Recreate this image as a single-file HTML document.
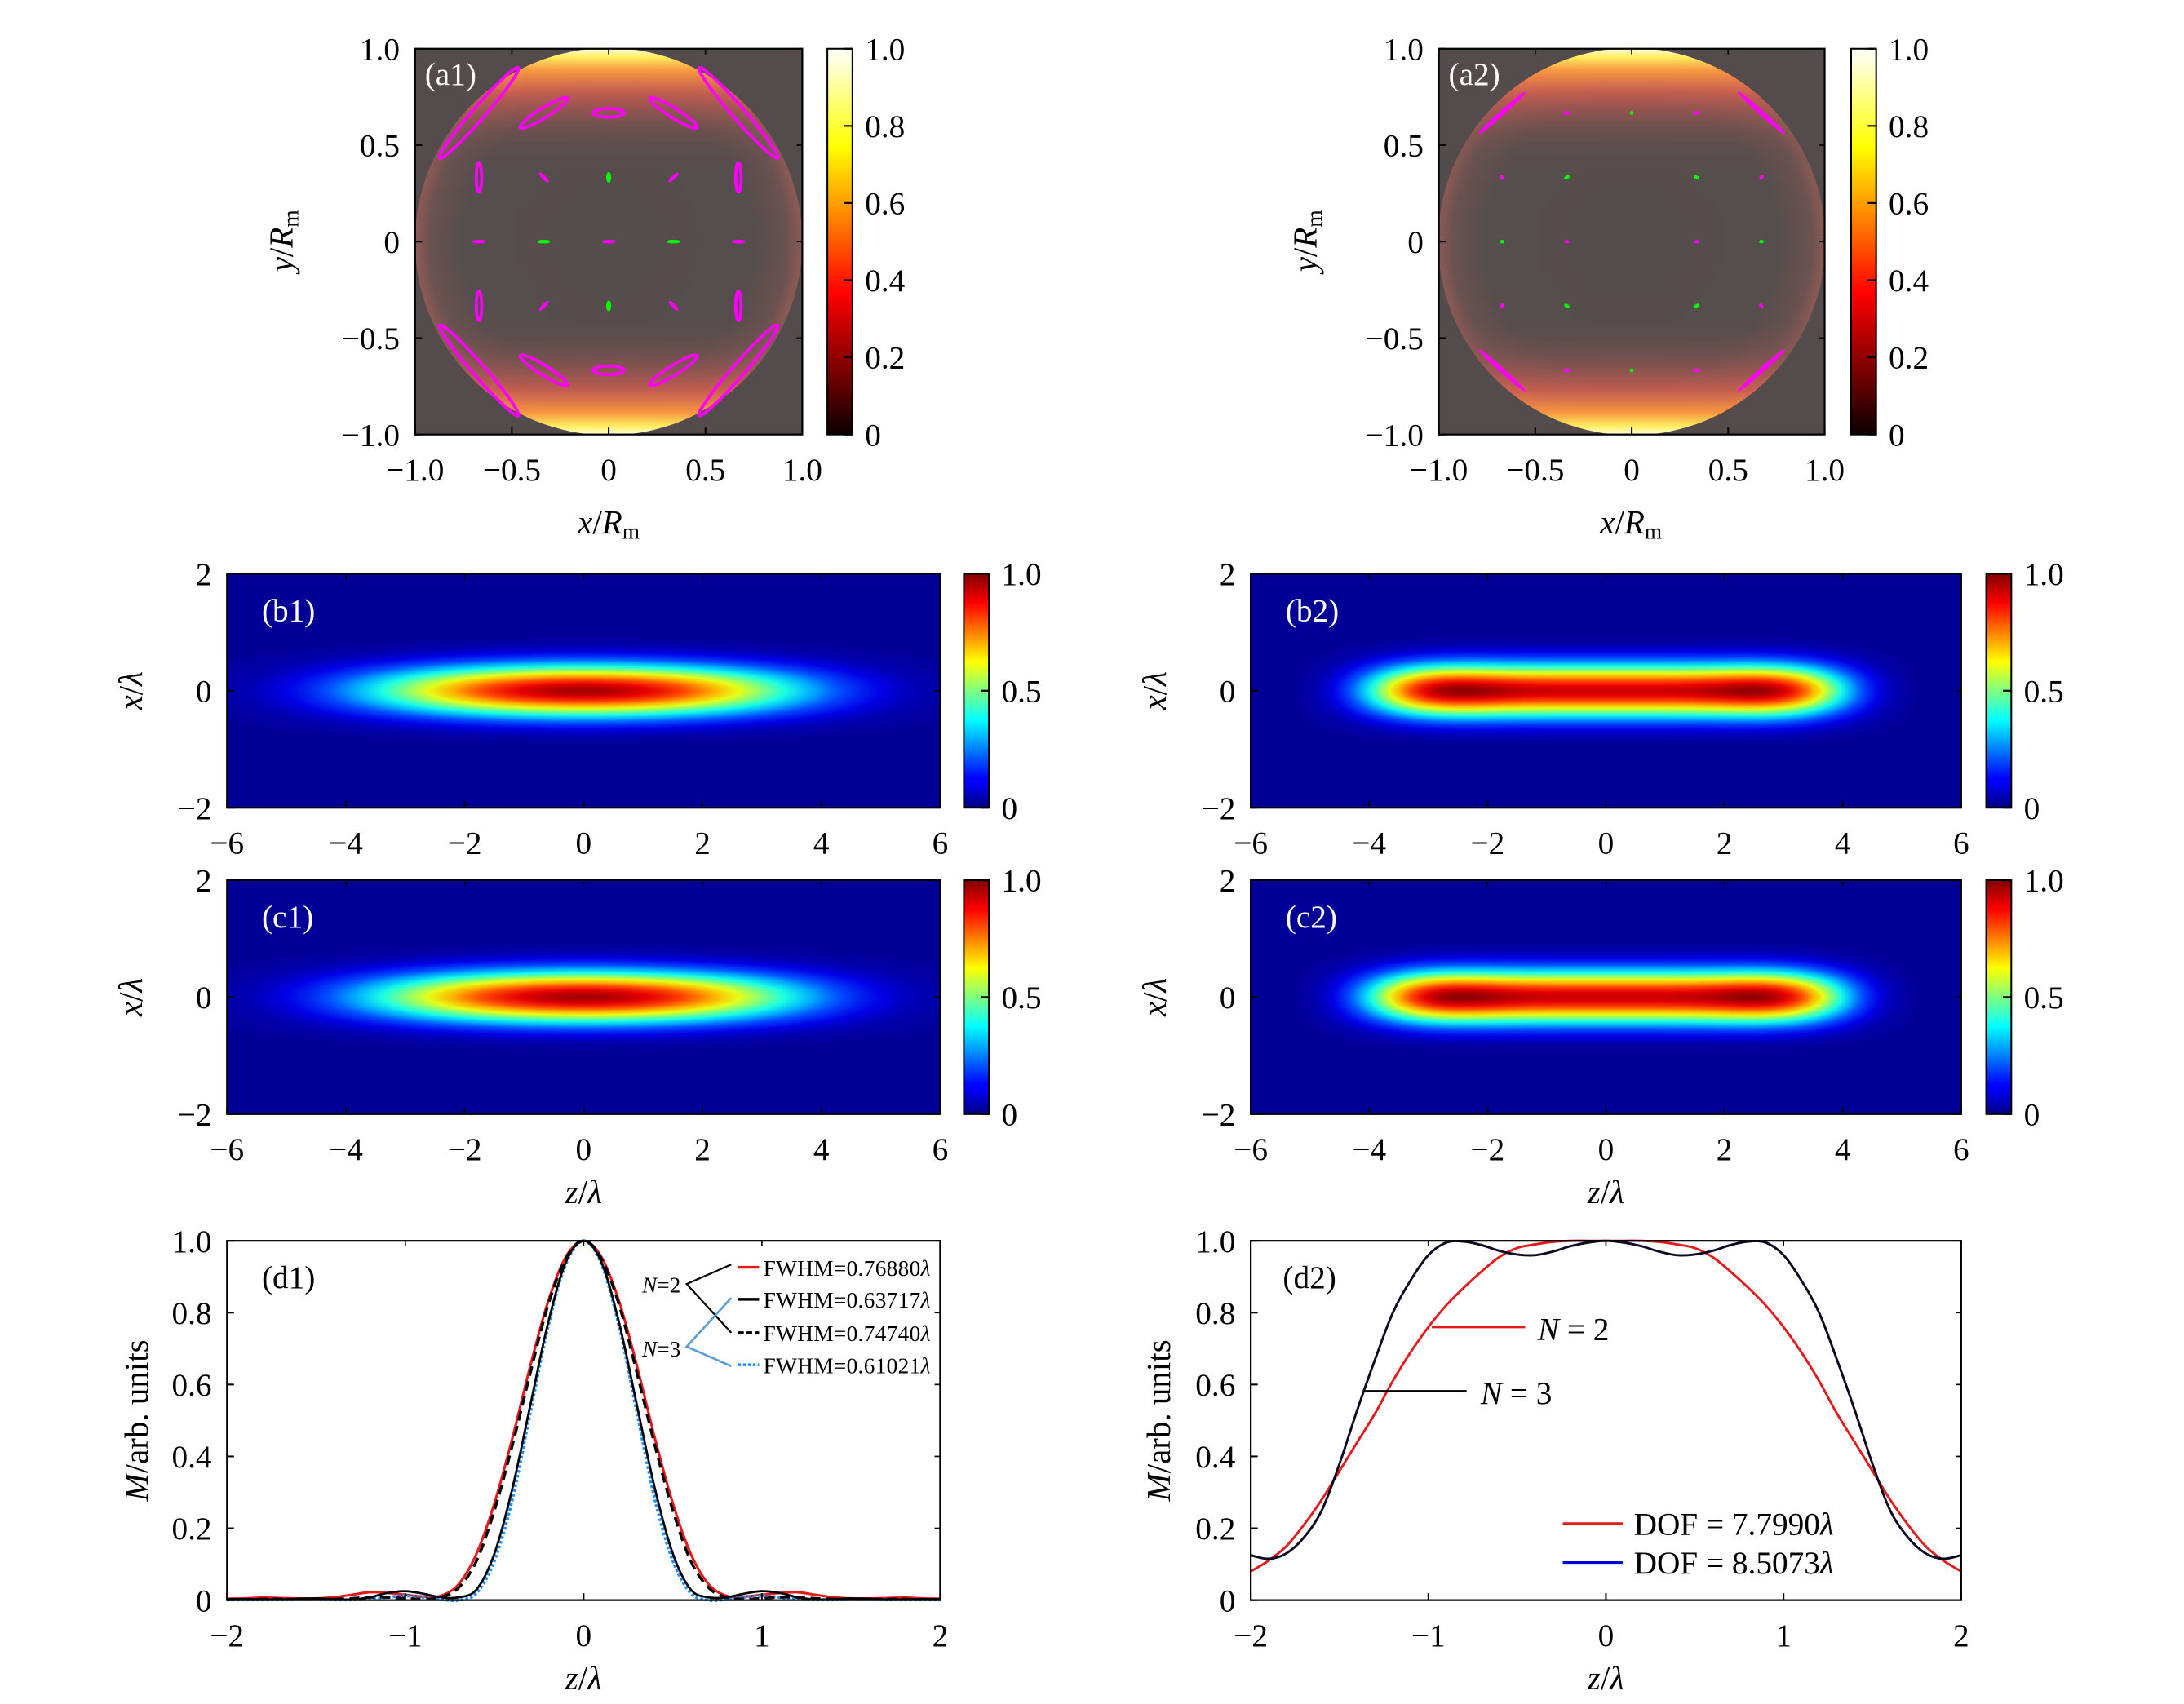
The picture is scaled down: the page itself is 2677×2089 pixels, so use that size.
<!DOCTYPE html>
<html><head><meta charset="utf-8"><style>
html,body{margin:0;padding:0;background:#fff;}
svg{display:block;font-family:"Liberation Serif",serif;}
</style></head><body>
<svg id="fig" xmlns="http://www.w3.org/2000/svg" width="2677" height="2089" viewBox="0 0 1568 1223.6" preserveAspectRatio="none">
<defs>
 <linearGradient id="hot" x1="0" y1="1" x2="0" y2="0">
  <stop offset="0" stop-color="#0b0000"/><stop offset="0.365" stop-color="#ff0000"/>
  <stop offset="0.746" stop-color="#ffff00"/><stop offset="1" stop-color="#ffffff"/>
 </linearGradient>
 <linearGradient id="jet" x1="0" y1="1" x2="0" y2="0">
  <stop offset="0" stop-color="#000080"/><stop offset="0.11" stop-color="#0000ff"/>
  <stop offset="0.125" stop-color="#0000ff"/><stop offset="0.375" stop-color="#00ffff"/>
  <stop offset="0.5" stop-color="#80ff80"/><stop offset="0.625" stop-color="#ffff00"/>
  <stop offset="0.875" stop-color="#ff0000"/><stop offset="1" stop-color="#800000"/>
 </linearGradient>
 <radialGradient id="discBase" cx="0.5" cy="0.5" r="0.5">
  <stop offset="0" stop-color="#554c4c"/><stop offset="0.75" stop-color="#564d4d"/>
  <stop offset="0.92" stop-color="#6a5250"/><stop offset="1" stop-color="#8e5a55"/>
 </radialGradient>
 <linearGradient id="discVert" x1="0" y1="0" x2="0" y2="1">
  <stop offset="0" stop-color="#fffff0" stop-opacity="1"/>
  <stop offset="0.025" stop-color="#ffee60" stop-opacity="1"/>
  <stop offset="0.06" stop-color="#ff9a40" stop-opacity="0.95"/>
  <stop offset="0.12" stop-color="#e06050" stop-opacity="0.75"/>
  <stop offset="0.22" stop-color="#8a5552" stop-opacity="0.35"/>
  <stop offset="0.32" stop-color="#554c4c" stop-opacity="0"/>
  <stop offset="0.68" stop-color="#554c4c" stop-opacity="0"/>
  <stop offset="0.78" stop-color="#8a5552" stop-opacity="0.35"/>
  <stop offset="0.88" stop-color="#e06050" stop-opacity="0.75"/>
  <stop offset="0.94" stop-color="#ff9a40" stop-opacity="0.95"/>
  <stop offset="0.975" stop-color="#ffee60" stop-opacity="1"/>
  <stop offset="1" stop-color="#fffff0" stop-opacity="1"/>
 </linearGradient>
 <clipPath id="discA1"><circle cx="437" cy="173.5" r="139"/></clipPath>
 <clipPath id="discA2"><circle cx="1171.5" cy="173.5" r="139"/></clipPath>
 <clipPath id="clipB1"><rect x="163" y="412" width="512" height="168"/></clipPath>
 <clipPath id="clipB2"><rect x="898" y="412" width="510" height="168"/></clipPath>
 <clipPath id="clipC1"><rect x="163" y="632" width="512" height="168"/></clipPath>
 <clipPath id="clipC2"><rect x="898" y="632" width="510" height="168"/></clipPath>
 <filter id="beam1" color-interpolation-filters="sRGB" x="-0.1" y="-0.1" width="1.2" height="1.2">
  <feGaussianBlur stdDeviation="60 11"/>
  <feComponentTransfer><feFuncR type="linear" slope="1.38"/><feFuncG type="linear" slope="1.38"/><feFuncB type="linear" slope="1.38"/></feComponentTransfer>
  <feComponentTransfer>
   <feFuncR type="table" tableValues="0 0 0 0 0.1 0.5 0.9 1 1 0.9 0.5"/>
   <feFuncG type="table" tableValues="0 0 0.3 0.7 1 1 1 0.7 0.3 0 0"/>
   <feFuncB type="table" tableValues="0.5 0.9 1 1 0.9 0.5 0.1 0 0 0 0"/>
  </feComponentTransfer>
 </filter>
 <filter id="beam2" color-interpolation-filters="sRGB" x="-0.1" y="-0.1" width="1.2" height="1.2">
  <feGaussianBlur stdDeviation="24 11"/>
  <feComponentTransfer><feFuncR type="linear" slope="1.38"/><feFuncG type="linear" slope="1.38"/><feFuncB type="linear" slope="1.38"/></feComponentTransfer>
  <feComponentTransfer>
   <feFuncR type="table" tableValues="0 0 0 0 0.1 0.5 0.9 1 1 0.9 0.5"/>
   <feFuncG type="table" tableValues="0 0 0.3 0.7 1 1 1 0.7 0.3 0 0"/>
   <feFuncB type="table" tableValues="0.5 0.9 1 1 0.9 0.5 0.1 0 0 0 0"/>
  </feComponentTransfer>
 </filter>
</defs>

<rect x="298" y="35" width="278" height="277" fill="#544c4c"/>
<g clip-path="url(#discA1)">
 <rect x="298" y="34" width="278" height="279" fill="url(#discBase)"/>
 <rect x="298" y="34" width="278" height="279" fill="url(#discVert)"/>
</g>
<rect x="1033" y="35" width="277" height="277" fill="#544c4c"/>
<g clip-path="url(#discA2)">
 <rect x="1032" y="34" width="279" height="279" fill="url(#discBase)"/>
 <rect x="1032" y="34" width="279" height="279" fill="url(#discVert)"/>
</g>
<g id="ellA1"></g>
<g id="ellA2"></g>

<g clip-path="url(#clipB1)"><g filter="url(#beam1)">
 <rect x="0" y="350" width="840" height="300" fill="#050505"/>
 <ellipse cx="419" cy="496" rx="150" ry="12" fill="#fff"/>
</g></g>
<g clip-path="url(#clipC1)"><g filter="url(#beam1)">
 <rect x="0" y="570" width="840" height="300" fill="#050505"/>
 <ellipse cx="419" cy="716" rx="150" ry="12" fill="#fff"/>
</g></g>
<g clip-path="url(#clipB2)"><g filter="url(#beam2)">
 <rect x="740" y="350" width="840" height="300" fill="#050505"/>
 <rect x="982" y="484" width="342" height="24" rx="50" ry="12" fill="#e6e6e6"/>
 <ellipse cx="1038" cy="496" rx="34" ry="12" fill="#fff"/>
 <ellipse cx="1272" cy="496" rx="34" ry="12" fill="#fff"/>
</g></g>
<g clip-path="url(#clipC2)"><g filter="url(#beam2)">
 <rect x="740" y="570" width="840" height="300" fill="#050505"/>
 <rect x="982" y="704" width="342" height="24" rx="50" ry="12" fill="#e6e6e6"/>
 <ellipse cx="1038" cy="716" rx="34" ry="12" fill="#fff"/>
 <ellipse cx="1272" cy="716" rx="34" ry="12" fill="#fff"/>
</g></g>

<rect x="594" y="35" width="18" height="277" fill="url(#hot)" stroke="#000" stroke-width="1.2"/>
<rect x="1329" y="35" width="18" height="277" fill="url(#hot)" stroke="#000" stroke-width="1.2"/>
<rect x="692" y="412" width="18" height="168" fill="url(#jet)" stroke="#000" stroke-width="1.2"/>
<rect x="1426" y="412" width="18" height="168" fill="url(#jet)" stroke="#000" stroke-width="1.2"/>
<rect x="692" y="632" width="18" height="168" fill="url(#jet)" stroke="#000" stroke-width="1.2"/>
<rect x="1426" y="632" width="18" height="168" fill="url(#jet)" stroke="#000" stroke-width="1.2"/>

<g id="curves"></g>
<g id="axes"></g>

<g font-size="23" fill="#fff">
 <text x="305" y="61">(a1)</text>
 <text x="1040" y="61">(a2)</text>
 <text x="188" y="446">(b1)</text>
 <text x="923" y="446">(b2)</text>
 <text x="188" y="666">(c1)</text>
 <text x="923" y="666">(c2)</text>
</g>
<g font-size="23" fill="#000">
 <text x="188" y="925">(d1)</text>
 <text x="921" y="925">(d2)</text>
</g>

<g font-size="24" fill="#000" text-anchor="middle">
 <text x="437" y="383"><tspan font-style="italic">x</tspan>/<tspan font-style="italic">R</tspan><tspan font-size="16" dy="4">m</tspan></text>
 <text x="1171" y="383"><tspan font-style="italic">x</tspan>/<tspan font-style="italic">R</tspan><tspan font-size="16" dy="4">m</tspan></text>
 <text transform="translate(210,173) rotate(-90)"><tspan font-style="italic">y</tspan>/<tspan font-style="italic">R</tspan><tspan font-size="16" dy="4">m</tspan></text>
 <text transform="translate(945,173) rotate(-90)"><tspan font-style="italic">y</tspan>/<tspan font-style="italic">R</tspan><tspan font-size="16" dy="4">m</tspan></text>
 <text transform="translate(102,496) rotate(-90)"><tspan font-style="italic">x</tspan>/<tspan font-style="italic">λ</tspan></text>
 <text transform="translate(837,496) rotate(-90)"><tspan font-style="italic">x</tspan>/<tspan font-style="italic">λ</tspan></text>
 <text transform="translate(102,716) rotate(-90)"><tspan font-style="italic">x</tspan>/<tspan font-style="italic">λ</tspan></text>
 <text transform="translate(837,716) rotate(-90)"><tspan font-style="italic">x</tspan>/<tspan font-style="italic">λ</tspan></text>
 <text x="419" y="864"><tspan font-style="italic">z</tspan>/<tspan font-style="italic">λ</tspan></text>
 <text x="1153" y="864"><tspan font-style="italic">z</tspan>/<tspan font-style="italic">λ</tspan></text>
 <text x="419" y="1213"><tspan font-style="italic">z</tspan>/<tspan font-style="italic">λ</tspan></text>
 <text x="1153" y="1213"><tspan font-style="italic">z</tspan>/<tspan font-style="italic">λ</tspan></text>
 <text transform="translate(106,1020) rotate(-90)"><tspan font-style="italic">M</tspan>/arb. units</text>
 <text transform="translate(840,1020) rotate(-90)"><tspan font-style="italic">M</tspan>/arb. units</text>
</g>

<g font-size="16">
 <text x="461" y="928"><tspan font-style="italic">N</tspan>=2</text>
 <text x="461" y="974"><tspan font-style="italic">N</tspan>=3</text>
 <polyline points="525,908 493,922 525,957" fill="none" stroke="#000" stroke-width="1.3"/>
 <polyline points="525,932 493,967 525,981" fill="none" stroke="#5b9bd5" stroke-width="1.5"/>
 <line x1="530" y1="910" x2="545" y2="910" stroke="#e41a1c" stroke-width="2"/>
 <line x1="530" y1="933" x2="545" y2="933" stroke="#000" stroke-width="2"/>
 <line x1="530" y1="957" x2="545" y2="957" stroke="#000" stroke-width="2" stroke-dasharray="4 2"/>
 <line x1="530" y1="980" x2="545" y2="980" stroke="#1e90ff" stroke-width="2" stroke-dasharray="2 1.5"/>
 <text x="548" y="916" textLength="120">FWHM=0.76880<tspan font-style="italic">λ</tspan></text>
 <text x="548" y="939" textLength="120">FWHM=0.63717<tspan font-style="italic">λ</tspan></text>
 <text x="548" y="963" textLength="120">FWHM=0.74740<tspan font-style="italic">λ</tspan></text>
 <text x="548" y="986" textLength="120">FWHM=0.61021<tspan font-style="italic">λ</tspan></text>
</g>
<g font-size="23">
 <line x1="1028" y1="953" x2="1095" y2="953" stroke="#e41a1c" stroke-width="1.6"/>
 <text x="1104" y="962"><tspan font-style="italic">N</tspan> = 2</text>
 <line x1="980" y1="999" x2="1053" y2="999" stroke="#000" stroke-width="1.6"/>
 <text x="1063" y="1008"><tspan font-style="italic">N</tspan> = 3</text>
 <line x1="1122" y1="1094" x2="1165" y2="1094" stroke="#e41a1c" stroke-width="1.8"/>
 <text x="1173" y="1102">DOF = 7.7990<tspan font-style="italic">λ</tspan></text>
 <line x1="1122" y1="1122" x2="1165" y2="1122" stroke="#0000dd" stroke-width="1.8"/>
 <text x="1173" y="1130">DOF = 8.5073<tspan font-style="italic">λ</tspan></text>
</g>
</svg>

<script>
// ---------------- data ----------------
const zD = [-2,-1.9,-1.8,-1.7,-1.6,-1.5,-1.4,-1.3,-1.2,-1.1,-1,-0.9,-0.8,-0.7,-0.6,-0.5,-0.4,-0.3,-0.2,-0.1,0,0.1,0.2,0.3,0.4,0.5,0.6,0.7,0.8,0.9,1,1.1,1.2,1.3,1.4,1.5,1.6,1.7,1.8,1.9,2];
const d1Red = [0.004,0.005,0.007,0.006,0.005,0.005,0.008,0.015,0.022,0.02,0.015,0.01,0.012,0.045,0.13,0.27,0.45,0.65,0.83,0.955,1,0.955,0.83,0.65,0.45,0.27,0.13,0.045,0.012,0.01,0.015,0.02,0.022,0.015,0.008,0.005,0.005,0.006,0.007,0.005,0.004];
const d1Black = [0.002,0.003,0.002,0.002,0.004,0.005,0.003,0.002,0.008,0.02,0.025,0.018,0.008,0.008,0.03,0.13,0.31,0.54,0.77,0.94,1,0.94,0.77,0.54,0.31,0.13,0.03,0.008,0.008,0.018,0.025,0.02,0.008,0.002,0.003,0.005,0.004,0.002,0.002,0.003,0.002];
const d1Dashed = [0.002,0.002,0.003,0.003,0.002,0.002,0.003,0.005,0.008,0.008,0.005,0.003,0.008,0.035,0.11,0.25,0.43,0.63,0.82,0.95,1,0.95,0.82,0.63,0.43,0.25,0.11,0.035,0.008,0.003,0.005,0.008,0.008,0.005,0.003,0.002,0.002,0.003,0.003,0.002,0.002];
const d1Dotted = [0.001,0.001,0.001,0.001,0.002,0.002,0.001,0.001,0.003,0.008,0.012,0.008,0.002,0,0.02,0.11,0.28,0.52,0.76,0.935,1,0.935,0.76,0.52,0.28,0.11,0.02,0,0.002,0.008,0.012,0.008,0.003,0.001,0.001,0.002,0.002,0.001,0.001,0.001,0.001];
const d2Red = [0.08,0.11,0.15,0.21,0.28,0.36,0.44,0.52,0.61,0.69,0.76,0.82,0.87,0.915,0.955,0.98,0.99,0.997,1,1,1,1,1,0.997,0.99,0.98,0.955,0.915,0.87,0.82,0.76,0.69,0.61,0.52,0.44,0.36,0.28,0.21,0.15,0.11,0.08];
const d2Black = [0.125,0.115,0.13,0.175,0.25,0.38,0.53,0.67,0.80,0.89,0.96,0.995,0.998,0.988,0.972,0.962,0.96,0.97,0.985,0.995,1,0.995,0.985,0.97,0.96,0.962,0.972,0.988,0.998,0.995,0.96,0.89,0.80,0.67,0.53,0.38,0.25,0.175,0.13,0.115,0.125];

const a1Ellipses = [
 [-0.67,0.665,0.31,0.032,-49,'m'],[-0.335,0.665,0.144,0.025,-32,'m'],[0,0.665,0.08,0.022,0,'m'],[0.335,0.665,0.144,0.025,32,'m'],[0.67,0.665,0.31,0.032,49,'m'],
 [-0.67,0.332,0.014,0.076,0,'m'],[-0.335,0.332,0.032,0.008,45,'m'],[0,0.332,0.011,0.025,0,'g'],[0.335,0.332,0.032,0.008,-45,'m'],[0.67,0.332,0.014,0.076,0,'m'],
 [-0.67,0,0.032,0.005,0,'m'],[-0.335,0,0.03,0.006,0,'g'],[0,0,0.03,0.005,0,'m'],[0.335,0,0.03,0.006,0,'g'],[0.67,0,0.032,0.005,0,'m'],
 [-0.67,-0.332,0.014,0.076,0,'m'],[-0.335,-0.332,0.032,0.008,-45,'m'],[0,-0.332,0.011,0.025,0,'g'],[0.335,-0.332,0.032,0.008,45,'m'],[0.67,-0.332,0.014,0.076,0,'m'],
 [-0.67,-0.665,0.31,0.032,49,'m'],[-0.335,-0.665,0.144,0.025,32,'m'],[0,-0.665,0.08,0.022,0,'m'],[0.335,-0.665,0.144,0.025,-32,'m'],[0.67,-0.665,0.31,0.032,-49,'m']
];
const a2Ellipses = [
 [-0.67,0.665,0.16,0.01,-42,'m'],[-0.335,0.665,0.018,0.005,0,'m'],[0,0.665,0.008,0.008,0,'g'],[0.335,0.665,0.018,0.005,0,'m'],[0.67,0.665,0.16,0.01,42,'m'],
 [-0.67,0.332,0.012,0.005,45,'m'],[-0.335,0.332,0.014,0.006,-30,'g'],[0.335,0.332,0.014,0.006,30,'g'],[0.67,0.332,0.012,0.005,-45,'m'],
 [-0.67,0,0.01,0.006,0,'g'],[-0.335,0,0.01,0.006,0,'m'],[0.335,0,0.01,0.006,0,'m'],[0.67,0,0.01,0.006,0,'g'],
 [-0.67,-0.332,0.012,0.005,-45,'m'],[-0.335,-0.332,0.014,0.006,30,'g'],[0.335,-0.332,0.014,0.006,-30,'g'],[0.67,-0.332,0.012,0.005,45,'m'],
 [-0.67,-0.665,0.16,0.01,42,'m'],[-0.335,-0.665,0.018,0.005,0,'m'],[0,-0.665,0.008,0.008,0,'g'],[0.335,-0.665,0.018,0.005,0,'m'],[0.67,-0.665,0.16,0.01,-42,'m']
];

const aTicks = [-1,-0.5,0,0.5,1];
const aTickLabels = ['−1.0','−0.5','0','0.5','1.0'];
const bzTicks = [-6,-4,-2,0,2,4,6];
const bzTickLabels = ['−6','−4','−2','0','2','4','6'];
const bxTicks = [-2,0,2];
const bxTickLabels = ['−2','0','2'];
const dzTicks = [-2,-1,0,1,2];
const dzTickLabels = ['−2','−1','0','1','2'];
const dyTicks = [0,0.2,0.4,0.6,0.8,1];
const dyTickLabels = ['0','0.2','0.4','0.6','0.8','1.0'];
const hotTicks = [0,0.2,0.4,0.6,0.8,1];
const hotTickLabels = ['0','0.2','0.4','0.6','0.8','1.0'];
const jetTicks = [0,0.5,1];
const jetTickLabels = ['0','0.5','1.0'];

// ---------------- drawing ----------------
const NS = 'http://www.w3.org/2000/svg';
const FS = 23;
function mk(tag, attrs, parent){const e=document.createElementNS(NS,tag);for(const k in attrs)e.setAttribute(k,attrs[k]);parent.appendChild(e);return e;}
const axes = document.getElementById('axes');
const curves = document.getElementById('curves');
function scale(d0,d1,p0,p1){return v=>p0+(v-d0)*(p1-p0)/(d1-d0);}

function panelAxes(name,x0,x1,y0,y1,xs,ys,xt,xl,yt,yl){
  const f = mk('rect',{x:x0,y:y0,width:x1-x0,height:y1-y0,fill:'none',stroke:'#000','stroke-width':1.3},axes);
  
  
  xt.forEach((v,i)=>{
    const px = xs(v);
    const t = mk('line',{x1:px,x2:px,y1:y1,y2:y1-5,stroke:'#000','stroke-width':1.2},axes);
    
    
    const t2 = mk('line',{x1:px,x2:px,y1:y0,y2:y0+4,stroke:'#000','stroke-width':1},axes);
    
    
    const l = mk('text',{x:px,y:y1+33,'font-size':FS,'text-anchor':'middle'},axes);
    l.textContent = xl[i];
    
    
  });
  yt.forEach((v,i)=>{
    const py = ys(v);
    const t = mk('line',{x1:x0,x2:x0+5,y1:py,y2:py,stroke:'#000','stroke-width':1.2},axes);
    
    
    const t2 = mk('line',{x1:x1,x2:x1-4,y1:py,y2:py,stroke:'#000','stroke-width':1},axes);
    
    
    const l = mk('text',{x:x0-11,y:py+8,'font-size':FS,'text-anchor':'end'},axes);
    l.textContent = yl[i];
    
    
  });
}
function colorbarAxis(name,x0,x1,y0,y1,ticks,labels){
  const s = scale(0,1,y1,y0);
  ticks.forEach((v,i)=>{
    const py = s(v);
    const t = mk('line',{x1:x1,x2:x1-6,y1:py,y2:py,stroke:'#000','stroke-width':1.3},axes);
    
    
    const l = mk('text',{x:x1+9,y:py+8,'font-size':FS},axes);
    l.textContent = labels[i];
    
    
  });
}

[['a1',298,576],['a2',1033,1310]].forEach(([n,x0,x1])=>{
  panelAxes(n,x0,x1,35,312,scale(-1,1,x0,x1),scale(-1,1,312,35),aTicks,aTickLabels,aTicks,aTickLabels);
});
colorbarAxis('a1',594,612,35,312,hotTicks,hotTickLabels);
colorbarAxis('a2',1329,1347,35,312,hotTicks,hotTickLabels);
[['b1',163,675,412,580],['b2',898,1408,412,580],['c1',163,675,632,800],['c2',898,1408,632,800]].forEach(([n,x0,x1,y0,y1])=>{
  panelAxes(n,x0,x1,y0,y1,scale(-6,6,x0,x1),scale(-2,2,y1,y0),bzTicks,bzTickLabels,bxTicks,bxTickLabels);
});
colorbarAxis('b1',692,710,412,580,jetTicks,jetTickLabels);
colorbarAxis('b2',1426,1444,412,580,jetTicks,jetTickLabels);
colorbarAxis('c1',692,710,632,800,jetTicks,jetTickLabels);
colorbarAxis('c2',1426,1444,632,800,jetTicks,jetTickLabels);
const d1x = scale(-2,2,163,675), d1y = scale(0,1,1149,891);
const d2x = scale(-2,2,898,1408), d2y = scale(0,1,1149,891);
panelAxes('d1',163,675,891,1149,d1x,d1y,dzTicks,dzTickLabels,dyTicks,dyTickLabels);
panelAxes('d2',898,1408,891,1149,d2x,d2y,dzTicks,dzTickLabels,dyTicks,dyTickLabels);

function drawEllipses(list, gid, cx0, cy0, r){
  const g = document.getElementById(gid);
  list.forEach(d=>{
    const [x,y,rx,ry,ang,c] = d;
    const col = c==='g' ? '#00ff00' : '#ff00ff';
    const px = cx0 + x*r, py = cy0 - y*r;
    const filled = Math.min(rx,ry) < 0.012;
    const e = mk('ellipse',{cx:px,cy:py,rx:Math.max(rx*r,1),ry:Math.max(ry*r,1),transform:`rotate(${ang} ${px} ${py})`,
      fill: filled?col:'none', stroke:col,'stroke-width': filled?0.6:2.2},g);
    
    
  });
}
drawEllipses(a1Ellipses,'ellA1',437,173.5,139);
drawEllipses(a2Ellipses,'ellA2',1171.5,173.5,139);

function pathD(xs, ys, xv, yv){
  const p = xv.map((v,i)=>[xs(v), ys(yv[i])]);
  let d = `M${p[0][0].toFixed(2)},${p[0][1].toFixed(2)}`;
  for(let i=0;i<p.length-1;i++){
    const p0=p[Math.max(i-1,0)],p1=p[i],p2=p[i+1],p3=p[Math.min(i+2,p.length-1)];
    const c1=[p1[0]+(p2[0]-p0[0])/6,p1[1]+(p2[1]-p0[1])/6];
    const c2=[p2[0]-(p3[0]-p1[0])/6,p2[1]-(p3[1]-p1[1])/6];
    d+=`C${c1[0].toFixed(2)},${c1[1].toFixed(2)} ${c2[0].toFixed(2)},${c2[1].toFixed(2)} ${p2[0].toFixed(2)},${p2[1].toFixed(2)}`;
  }
  return d;
}
let c;
c = mk('path',{d:pathD(d1x,d1y,zD,d1Red),fill:'none',stroke:'#e41a1c','stroke-width':1.8},curves);


c = mk('path',{d:pathD(d1x,d1y,zD,d1Dotted),fill:'none',stroke:'#1e90ff','stroke-width':2.2,'stroke-dasharray':'2 1.5'},curves);


c = mk('path',{d:pathD(d1x,d1y,zD,d1Black),fill:'none',stroke:'#000','stroke-width':1.6},curves);


c = mk('path',{d:pathD(d1x,d1y,zD,d1Dashed),fill:'none',stroke:'#000','stroke-width':2,'stroke-dasharray':'7 4'},curves);


c = mk('path',{d:pathD(d2x,d2y,zD,d2Red),fill:'none',stroke:'#e41a1c','stroke-width':1.7},curves);


c = mk('path',{d:pathD(d2x,d2y,zD,d2Black),fill:'none',stroke:'#0a0a20','stroke-width':1.7},curves);


</script>
</body></html>
